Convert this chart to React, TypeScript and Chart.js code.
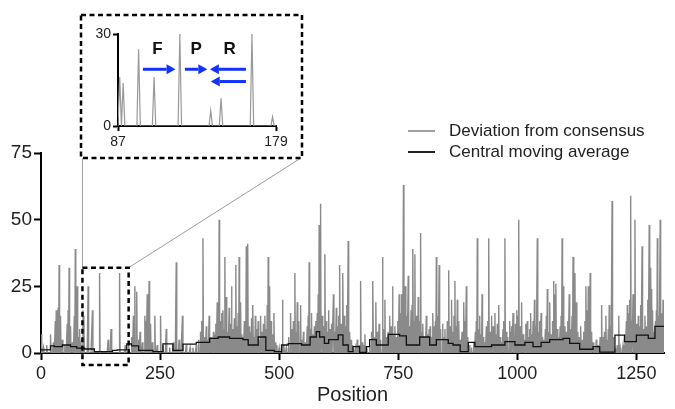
import React, { useEffect, useRef } from 'react';
import { Chart, registerables } from 'chart.js';
Chart.register(...registerables);

const FONT = '"Liberation Sans", Arial, sans-serif';
const X_MAX = 1308;
const xTicks = [0, 250, 500, 750, 1000, 1250];
const yTicks = [0, 25, 50, 75];
const insetXTicks = [87, 179];
const insetYTicks = [0, 30];
const seriesLabels = ['Deviation from consensus', 'Central moving average'];
const axisTitle = 'Position';

// deviation from consensus: [position, value]; positions not listed are 0
const deviationA: [number, number][] = [
  [1, 7], [5, 2], [12, 3], [20, 7], [26, 4], [30, 12], [32, 16], [34, 13], [36, 17], [38, 33], [41, 14], [45, 5],
  [50, 3], [55, 11], [57, 16], [59, 32], [62, 10], [66, 4], [70, 14], [72, 39], [74, 8], [76, 25], [79, 6], [81, 9],
  [84, 3], [88, 16], [90, 14], [99, 25], [108, 16], [123, 30], [141, 5], [147, 9], [165, 30], [177, 3],
];
const deviationB: [number, number][] = [
  [184, 3], [190, 6], [194, 14], [197, 25], [201, 23], [205, 5], [208, 8], [213, 4], [218, 14], [220, 12], [223, 22],
  [227, 27], [230, 11], [234, 4], [239, 14], [244, 3], [251, 14], [256, 3], [263, 9], [270, 2], [278, 4], [284, 34],
  [290, 5], [297, 14], [305, 3], [313, 2], [319, 2], [326, 3], [331, 5], [335, 8], [338, 12], [340, 43], [343, 6],
  [347, 10], [350, 5], [353, 14], [357, 6], [360, 4], [362, 8], [365, 7], [367, 11], [370, 19], [372, 9], [374, 50],
  [377, 12], [379, 15], [382, 16], [384, 9], [386, 36], [389, 21], [392, 8], [395, 17], [398, 11], [400, 25], [403, 9],
  [406, 13], [409, 33], [412, 10], [414, 15], [416, 36], [419, 19], [422, 7], [424, 6], [427, 12], [429, 9], [431, 40],
  [434, 41], [437, 10], [440, 8], [442, 13], [445, 18], [448, 6], [450, 14], [453, 9], [456, 12], [458, 5], [461, 14],
  [464, 8], [467, 11], [470, 14], [473, 9], [475, 18], [477, 36], [480, 25], [483, 12], [486, 7], [489, 15], [492, 4],
  [495, 3], [500, 2],
];
const deviationC: [number, number][] = [
  [507, 20], [510, 3], [515, 2], [520, 6], [524, 15], [527, 9], [530, 12], [533, 30], [536, 8], [538, 19], [541, 12],
  [545, 18], [548, 5], [551, 8], [555, 4], [559, 10], [561, 14], [563, 34], [566, 9], [568, 15], [571, 7], [574, 10],
  [577, 12], [580, 15], [582, 22], [584, 48], [587, 56], [590, 14], [593, 10], [596, 37], [599, 12], [601, 8], [604, 16],
  [607, 9], [610, 11], [614, 22], [617, 8], [620, 17], [623, 10], [625, 14], [627, 33], [630, 11], [632, 9], [634, 30],
  [637, 14], [640, 10], [642, 18], [645, 42], [648, 8], [651, 5], [655, 3], [660, 2], [664, 5], [668, 3], [671, 27],
  [674, 4], [677, 3], [680, 7], [684, 2], [690, 3], [694, 8], [697, 27], [700, 6], [703, 19], [706, 8], [710, 11],
  [713, 5], [717, 36], [720, 9], [722, 20], [725, 6], [729, 8], [732, 14], [735, 10], [738, 25], [741, 7], [743, 10],
  [746, 6], [749, 12], [752, 22], [755, 15], [757, 22], [759, 9], [761, 63], [763, 12], [765, 25], [768, 14], [771, 29],
  [774, 10], [777, 16], [779, 18], [781, 39], [783, 12], [785, 37], [788, 14], [790, 9], [792, 21], [795, 12], [797, 45],
  [800, 8], [802, 11], [805, 6], [809, 14], [812, 7], [815, 9], [817, 10], [820, 6], [823, 15], [826, 10], [828, 12],
  [830, 36], [833, 14], [836, 33], [839, 9], [843, 11], [846, 6], [848, 9], [851, 5], [853, 12], [856, 31], [859, 10],
  [862, 20], [865, 8], [867, 14], [869, 27], [872, 10], [874, 20], [877, 12], [880, 5], [884, 8], [888, 19], [890, 12],
  [893, 25], [896, 6], [900, 3],
];
const deviationD: [number, number][] = [
  [904, 2], [908, 4], [912, 8], [914, 12], [916, 43], [919, 9], [921, 14], [924, 7], [926, 22], [929, 6], [932, 4],
  [935, 10], [938, 12], [940, 43], [943, 8], [946, 14], [949, 10], [953, 15], [956, 7], [958, 11], [961, 18], [964, 6],
  [967, 4], [970, 9], [972, 12], [974, 43], [977, 8], [980, 6], [984, 12], [986, 8], [988, 10], [991, 15], [994, 6],
  [996, 11], [999, 16], [1001, 14], [1003, 50], [1006, 10], [1009, 19], [1012, 7], [1015, 5], [1018, 11], [1021, 12],
  [1024, 6], [1026, 9], [1028, 15], [1031, 7], [1033, 12], [1036, 20], [1039, 10], [1042, 43], [1045, 8], [1047, 12],
  [1050, 15], [1053, 6], [1056, 5], [1059, 9], [1061, 14], [1063, 24], [1066, 8], [1068, 19], [1071, 7], [1074, 12],
  [1076, 27], [1078, 22], [1081, 26], [1084, 9], [1087, 6], [1090, 10], [1092, 14], [1094, 43], [1097, 25], [1100, 10],
  [1103, 8], [1106, 12], [1109, 22], [1112, 9], [1115, 14], [1117, 36], [1119, 12], [1121, 30], [1124, 19], [1127, 8],
  [1130, 6], [1133, 10], [1136, 5], [1139, 8], [1142, 12], [1144, 25], [1147, 16], [1149, 25], [1151, 9], [1153, 30],
  [1156, 8], [1159, 4], [1163, 2], [1166, 5], [1170, 3], [1174, 6], [1177, 18], [1180, 6], [1183, 8], [1186, 14],
  [1189, 5], [1191, 9], [1193, 18], [1196, 10], [1199, 57], [1202, 6], [1205, 2], [1210, 3], [1213, 14], [1216, 2],
  [1222, 3], [1226, 7], [1229, 12], [1231, 18], [1234, 15], [1236, 20], [1238, 59], [1240, 12], [1243, 22], [1245, 16],
  [1247, 50], [1250, 11], [1252, 8], [1254, 14], [1257, 10], [1259, 18], [1262, 40], [1265, 9], [1268, 14], [1271, 10],
  [1274, 20], [1277, 48], [1280, 32], [1282, 24], [1284, 16], [1287, 8], [1290, 12], [1292, 16], [1294, 43], [1297, 14],
  [1300, 50], [1302, 10], [1304, 15], [1306, 20],
];

// central moving average, read as step values starting at each position
const maPositions = [
  0, 20, 28, 45, 62, 75, 92, 112, 125, 150, 160, 180, 190, 205, 235, 256, 277, 298, 326, 354, 372, 396, 424, 435, 456,
  472, 490, 505, 519, 547, 565, 578, 585, 595, 604, 624, 634, 645, 655, 669, 683, 690, 704, 729, 753, 767, 795, 816,
  830, 855, 865, 880, 897, 911, 946, 974, 995, 1016, 1033, 1050, 1068, 1082, 1096, 1110, 1131, 1159, 1173, 1205, 1225,
  1250, 1275, 1289, 1302, 1308,
];
const maValues = [
  1.5, 1.2, 2.7, 2.4, 3, 2.4, 1.8, 1.5, 0.5, 0.5, 1, 1.2, 3.4, 2.7, 1, 0.5, 3.4, 1, 3.3, 4, 5.5, 6, 5.5, 5, 3,
  6, 1, 0.5, 3, 3.5, 3, 6, 8, 6, 3.6, 5, 6.8, 3, 0.5, 2.4, 0.2, 2.4, 5, 3, 7, 6.4, 3, 6,
  3, 5, 3.6, 3, 0.5, 4, 2.4, 3, 4.3, 3, 4, 2.4, 4, 5, 5, 5.5, 3.6, 1.4, 2.4, 0.3, 6.7,
  4.3, 6.7, 5.5, 10, 10,
];

// inset annotations (data coordinates of the inset)
const primerLabels = ['F', 'P', 'R'];
const primerLabelX = [110, 132.5, 152];
const primerLabelY = 25;
const arrowFrom = [101.5, 126, 161.5, 161.5];
const arrowTo = [120.5, 139, 140.5, 141];
const arrowY = [18.5, 18.5, 18.5, 14.5];

const devMap = new Map<number, number>();
[...deviationA, ...deviationB, ...deviationC, ...deviationD].forEach(([p, v]) => devMap.set(p, v));
const devSeries: { x: number; y: number }[] = [];
for (let p = 0; p <= X_MAX; p++) devSeries.push({ x: p, y: devMap.get(p) ?? 0 });
const maSeries = maPositions.map((p, i) => ({ x: p, y: maValues[i] }));
const insetSeries = devSeries.filter((d) => d.x >= insetXTicks[0] && d.x <= insetXTicks[1]);

const GRAY = '#8a8a8a';
const plainTick = (v: any) => String(v);

export default function App() {
  const mainRef = useRef<HTMLCanvasElement>(null);
  const insetRef = useRef<HTMLCanvasElement>(null);

  useEffect(() => {
    document.body.style.margin = '0';
    const overlay = {
      id: 'overlay',
      afterDraw(chart: any) {
        const { ctx } = chart;
        const xs = chart.scales.x;
        const ys = chart.scales.y;
        ctx.save();
        const bx1 = xs.getPixelForValue(87);
        const bx2 = xs.getPixelForValue(184);
        const by1 = ys.getPixelForValue(32);
        const by2 = ys.getPixelForValue(0) + 12;
        ctx.strokeStyle = '#9a9a9a';
        ctx.lineWidth = 1;
        ctx.setLineDash([]);
        ctx.beginPath();
        ctx.moveTo(bx1, by1);
        ctx.lineTo(bx1, 158);
        ctx.moveTo(bx2, by1);
        ctx.lineTo(301, 158);
        ctx.stroke();
        ctx.strokeStyle = '#000';
        ctx.lineWidth = 2.5;
        ctx.setLineDash([5, 3.5]);
        ctx.strokeRect(bx1, by1, bx2 - bx1, by2 - by1);
        ctx.strokeRect(81, 15, 221, 143);
        ctx.setLineDash([]);
        const items = [
          { label: seriesLabels[0], color: '#a0a0a0', y: 131 },
          { label: seriesLabels[1], color: '#222', y: 152 },
        ];
        ctx.font = `17px ${FONT}`;
        ctx.textBaseline = 'middle';
        ctx.textAlign = 'left';
        items.forEach((it) => {
          ctx.strokeStyle = it.color;
          ctx.lineWidth = 2;
          ctx.beginPath();
          ctx.moveTo(408, it.y);
          ctx.lineTo(435, it.y);
          ctx.stroke();
          ctx.fillStyle = '#222';
          ctx.fillText(it.label, 449, it.y);
        });
        ctx.restore();
      },
    };

    const main = new Chart(mainRef.current!, {
      type: 'line',
      data: {
        datasets: [
          {
            label: seriesLabels[1],
            data: maSeries,
            borderColor: '#111',
            borderWidth: 1.3,
            pointRadius: 0,
            stepped: 'after',
          },
          {
            label: seriesLabels[0],
            data: devSeries,
            borderColor: GRAY,
            borderWidth: 1.4,
            pointRadius: 0,
            tension: 0,
          },
        ],
      },
      options: {
        responsive: false,
        animation: false,
        devicePixelRatio: 1,
        parsing: false,
        normalized: true,
        layout: { padding: { top: 153, right: 11, left: 0, bottom: 0 } },
        plugins: { legend: { display: false }, tooltip: { enabled: false } },
        scales: {
          x: {
            type: 'linear',
            min: 0,
            max: X_MAX,
            afterBuildTicks: (s: any) => {
              s.ticks = xTicks.map((v) => ({ value: v }));
            },
            afterFit: (s: any) => {
              s.height = 56;
            },
            ticks: { font: { family: FONT, size: 18 }, color: '#222', padding: 3, maxRotation: 0, callback: plainTick },
            grid: { drawOnChartArea: false, drawTicks: true, tickLength: 7, tickWidth: 2, tickColor: '#000' },
            border: { display: true, color: '#000', width: 2 },
            title: { display: true, text: axisTitle, font: { family: FONT, size: 20 }, color: '#222', padding: { top: 0, bottom: 2 } },
          },
          y: {
            type: 'linear',
            min: 0,
            max: 75,
            afterBuildTicks: (s: any) => {
              s.ticks = yTicks.map((v) => ({ value: v }));
            },
            afterFit: (s: any) => {
              s.width = 41;
            },
            ticks: { font: { family: FONT, size: 19 }, color: '#222', padding: 2, callback: plainTick },
            grid: { drawOnChartArea: false, drawTicks: true, tickLength: 7, tickWidth: 2, tickColor: '#000' },
            border: { display: true, color: '#000', width: 2 },
          },
        },
      },
      plugins: [overlay],
    } as any);

    const insetAnnot = {
      id: 'insetAnnot',
      afterDatasetsDraw(chart: any) {
        const { ctx } = chart;
        const xs = chart.scales.x;
        const ys = chart.scales.y;
        ctx.save();
        ctx.strokeStyle = '#1432ff';
        ctx.fillStyle = '#1432ff';
        ctx.lineWidth = 3;
        arrowFrom.forEach((f, i) => {
          const x1 = xs.getPixelForValue(f);
          const x2 = xs.getPixelForValue(arrowTo[i]);
          const y = ys.getPixelForValue(arrowY[i]);
          const dir = Math.sign(x2 - x1);
          const head = 9;
          ctx.beginPath();
          ctx.moveTo(x1, y);
          ctx.lineTo(x2 - dir * head, y);
          ctx.stroke();
          ctx.beginPath();
          ctx.moveTo(x2, y);
          ctx.lineTo(x2 - dir * head, y - 5);
          ctx.lineTo(x2 - dir * head, y + 5);
          ctx.closePath();
          ctx.fill();
        });
        ctx.fillStyle = '#111';
        ctx.font = `bold 17px ${FONT}`;
        ctx.textAlign = 'center';
        ctx.textBaseline = 'middle';
        primerLabels.forEach((l, i) => {
          ctx.fillText(l, xs.getPixelForValue(primerLabelX[i]), ys.getPixelForValue(primerLabelY));
        });
        ctx.restore();
      },
    };

    const inset = new Chart(insetRef.current!, {
      type: 'line',
      data: {
        datasets: [
          {
            label: seriesLabels[0],
            data: insetSeries,
            borderColor: '#999',
            borderWidth: 1.2,
            pointRadius: 0,
          },
        ],
      },
      options: {
        responsive: false,
        animation: false,
        devicePixelRatio: 1,
        parsing: false,
        layout: { padding: { top: 19, right: 26, left: 0, bottom: 0 } },
        plugins: { legend: { display: false }, tooltip: { enabled: false } },
        scales: {
          x: {
            type: 'linear',
            min: insetXTicks[0],
            max: insetXTicks[1],
            afterBuildTicks: (s: any) => {
              s.ticks = insetXTicks.map((v) => ({ value: v }));
            },
            afterFit: (s: any) => {
              s.height = 33;
            },
            ticks: { font: { family: FONT, size: 14 }, color: '#222', padding: 3, maxRotation: 0, callback: plainTick },
            grid: { drawOnChartArea: false, drawTicks: true, tickLength: 5, tickWidth: 2, tickColor: '#000' },
            border: { display: true, color: '#000', width: 2 },
          },
          y: {
            type: 'linear',
            min: 0,
            max: 30,
            afterBuildTicks: (s: any) => {
              s.ticks = insetYTicks.map((v) => ({ value: v }));
            },
            afterFit: (s: any) => {
              s.width = 38;
            },
            ticks: { font: { family: FONT, size: 14 }, color: '#222', padding: 2, callback: plainTick },
            grid: { drawOnChartArea: false, drawTicks: true, tickLength: 5, tickWidth: 2, tickColor: '#000' },
            border: { display: true, color: '#000', width: 2 },
          },
        },
      },
      plugins: [insetAnnot],
    } as any);

    return () => {
      main.destroy();
      inset.destroy();
    };
  }, []);

  return (
    <div style={{ position: 'relative', width: 675, height: 409, background: '#fff' }}>
      <canvas ref={mainRef} width={675} height={409} style={{ position: 'absolute', left: 0, top: 0 }} />
      <canvas ref={insetRef} width={222} height={144} style={{ position: 'absolute', left: 80, top: 15 }} />
    </div>
  );
}
